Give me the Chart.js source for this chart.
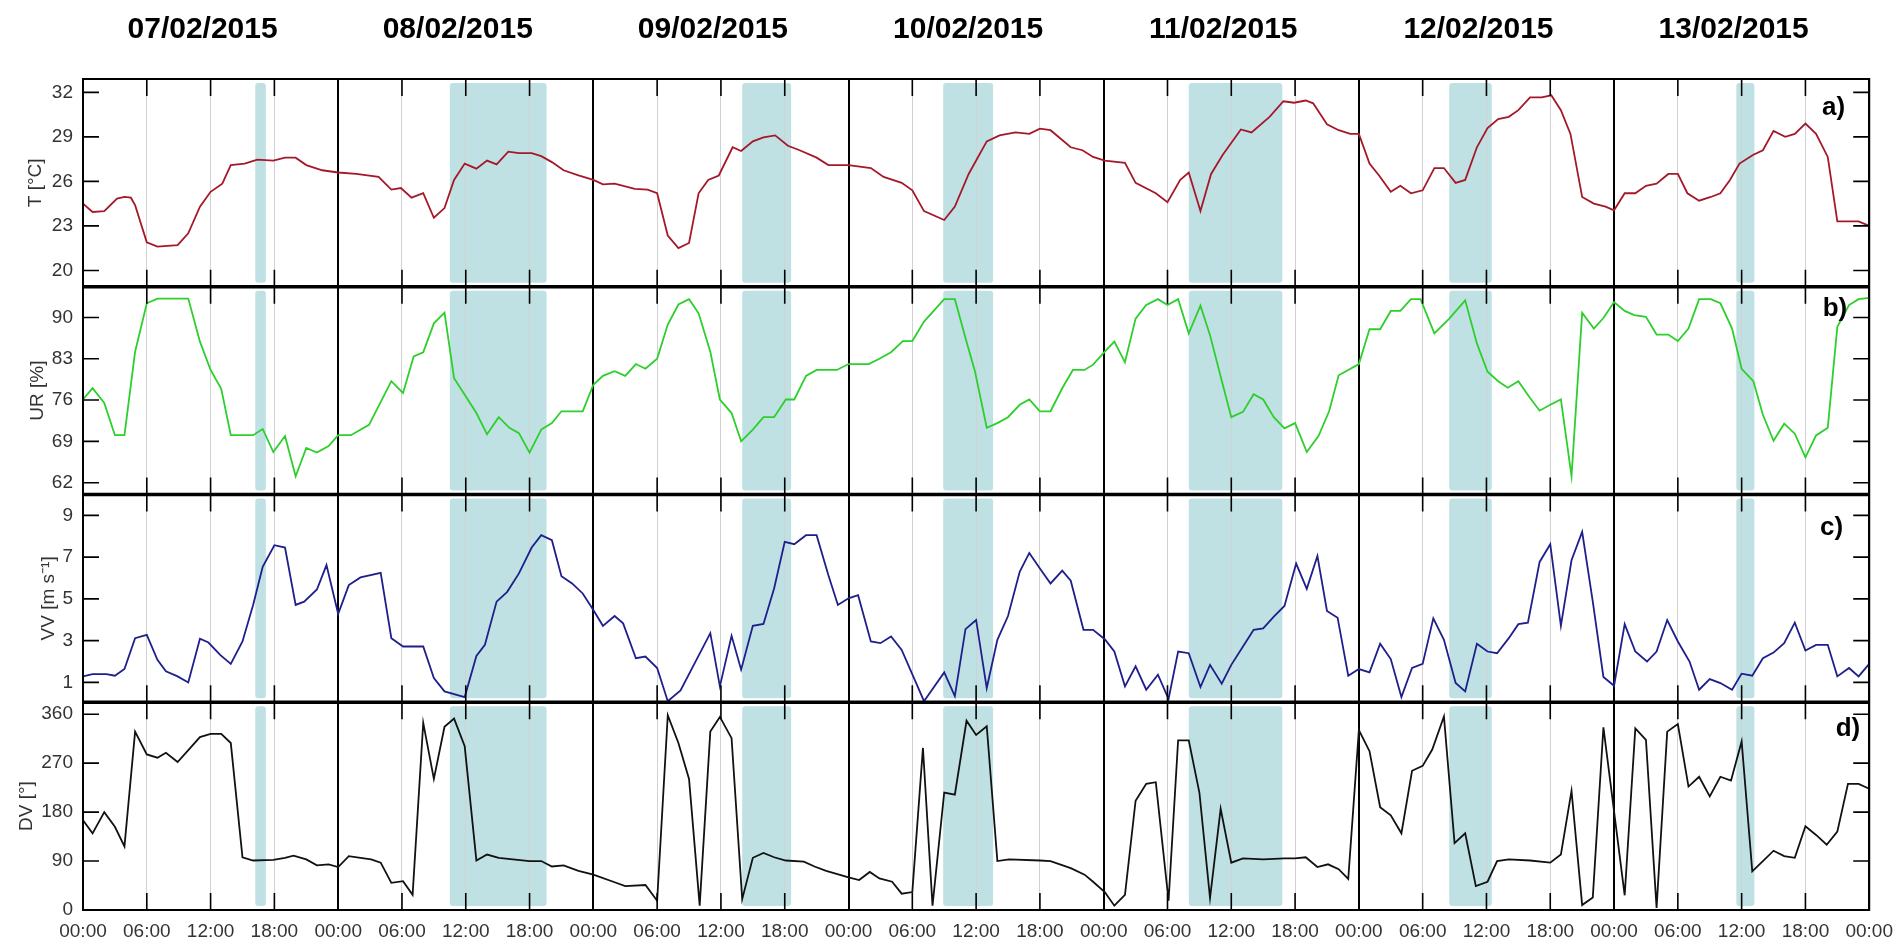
<!DOCTYPE html>
<html><head><meta charset="utf-8">
<script src="https://cdn.jsdelivr.net/npm/chart.js@4.4.1/dist/chart.umd.min.js"></script>
<style>html,body{margin:0;padding:0;background:#fff;overflow:hidden}#wrap{position:relative;width:1903px;height:947px}canvas{display:block}</style>
</head><body><div id="wrap"><canvas id="c" width="1903" height="947"></canvas></div>
<script>
// ---- data (hours since 07/02/2015 00:00) ----
const dayLabels = ['07/02/2015','08/02/2015','09/02/2015','10/02/2015','11/02/2015','12/02/2015','13/02/2015'];
const timeTickLabels = ['00:00','06:00','12:00','18:00'];
const shadeStart = [16.2, 34.5, 62.0, 80.9, 104.0, 128.5, 155.5];
const shadeEnd   = [17.2, 43.6, 66.6, 85.6, 112.8, 132.5, 157.2];

const tTicks  = [20, 23, 26, 29, 32];
const urTicks = [62, 69, 76, 83, 90];
const vvTicks = [1, 3, 5, 7, 9];
const dvTicks = [0, 90, 180, 270, 360];

const tHours = [0,0.9,2,3.2,3.9,4.5,4.9,6,7,8.9,9.9,11,12,13.1,13.9,15.2,16.4,17.9,19,20,21,22.5,24,25.7,27.8,29,29.9,30.9,32,33,34,34.9,35.9,37,38,38.9,40,41,42.2,43.1,44.1,45.2,46.6,48,48.9,50,51.9,53.1,54,55,56,57,57.9,58.8,59.8,61.1,61.9,63,64,65.1,66.3,67.4,69,70.1,72,74.1,75.3,77,78,79.1,81,82,83.3,85,86.2,87.7,89,90,91,92.9,94,95,96.1,98,99,100.9,102,103.2,104,105.1,106.1,107.2,108.9,109.9,111.6,112.9,113.9,115,115.7,117,118.1,119.2,120,121,121.9,123,123.9,124.9,126,127.1,128,129.1,130,131.1,132.1,133.1,134.1,135,136.1,137.2,138.1,139,139.9,141,142.1,143.2,144,145,146,147,148,149.1,150,150.9,152,153.1,154,154.9,155.8,157.1,158,159,160.1,161,162,163,164.1,165,166.1,167,168];
const tValues = [24.5,23.94,24.0,24.84,24.95,24.9,24.4,21.9,21.6,21.7,22.5,24.3,25.3,25.85,27.1,27.2,27.47,27.4,27.6,27.6,27.1,26.75,26.6,26.5,26.3,25.45,25.55,24.9,25.2,23.55,24.2,26.1,27.2,26.86,27.4,27.15,28.0,27.9,27.9,27.7,27.3,26.75,26.4,26.1,25.8,25.85,25.5,25.45,25.2,22.35,21.5,21.85,25.2,26.1,26.4,28.3,28.05,28.7,28.96,29.1,28.4,28.1,27.6,27.1,27.1,26.9,26.3,25.9,25.4,24.0,23.4,24.3,26.5,28.7,29.1,29.3,29.2,29.55,29.45,28.3,28.1,27.65,27.4,27.25,25.9,25.2,24.6,26.1,26.6,24.0,26.5,27.8,29.5,29.3,30.35,31.4,31.3,31.45,31.26,29.85,29.45,29.2,29.2,27.2,26.4,25.3,25.7,25.2,25.4,26.9,26.9,25.9,26.1,28.3,29.6,30.2,30.35,30.8,31.66,31.66,31.8,30.8,29.2,24.95,24.5,24.3,24.05,25.2,25.2,25.7,25.85,26.5,26.5,25.2,24.7,24.95,25.2,26.1,27.2,27.8,28.1,29.4,29.0,29.2,29.9,29.2,27.65,23.3,23.3,23.3,23.0];

const urHours = [0,0.9,2,3,3.9,4.9,6,7,9.9,11,12,13,13.9,16,16.9,17.9,19,20,21,22,23.1,24,25.2,26.9,29,30.1,31.1,32,33,34,34.9,35.9,37,38,39.1,40.1,41,42,43.1,44.1,45,47,48,48.9,50,51,52,52.9,54,55,56,57,57.9,59,59.9,61,61.9,63,64,65,66.1,66.9,68,69,70.9,72,73.9,74.9,76,77.1,78,79.1,81,82,83.1,83.9,85,86,87,88.1,89,90,91,92.1,93.1,94.2,95,96.1,97,98,99,100,101.1,102,103,104,105.1,106,107,108,109.1,110.1,111,112,113,114,115.1,116.2,117.2,118.1,119,120,121,122,123,123.9,124.9,125.8,127.1,128.5,130,131.1,132.1,133.1,134,135,136,137,138,139,140,141,142.1,143,144,145,145.9,147,148,149.1,150,151,152,153.1,154,155.1,156,157.1,158,159,160,161,162,163,164.1,165,166.1,167,168];
const urValues = [76.1,78.0,75.5,70.05,70.05,84.2,92.4,93.2,93.2,85.9,81.1,77.9,70.05,70.05,71.1,67.2,69.9,63.1,67.9,67.1,68.2,70.05,70.05,71.8,79.2,77.2,83.4,84.1,89.0,90.8,79.7,76.9,73.8,70.2,73.1,71.3,70.4,67.1,71.0,72.1,74.1,74.1,78.6,80.1,80.9,80.1,82.1,81.3,83.0,88.8,92.2,93.1,90.7,84.2,76.1,73.8,69.0,71.0,73.1,73.1,76.1,76.1,80.1,81.1,81.1,82.1,82.1,83.0,84.1,86.0,86.0,89.3,93.1,93.1,85.9,80.8,71.3,72.1,73.1,75.2,76.1,74.1,74.1,78.0,81.1,81.1,82.0,84.2,85.9,82.4,89.8,92.1,93.1,92.1,93.1,87.3,92.0,87.0,80.0,73.1,74.0,77.0,76.1,73.1,71.2,72.1,67.2,69.9,74.1,80.2,81.1,82.1,88.0,88.0,91.1,91.1,93.1,93.1,87.3,89.8,92.9,85.6,80.8,79.2,78.1,79.2,76.6,74.2,75.2,76.1,63.1,90.8,88.1,89.9,92.6,91.1,90.4,90.1,87.1,87.1,86.0,88.1,93.1,93.1,92.4,88.1,81.3,79.2,73.5,69.1,72.0,70.3,66.3,70.0,71.3,88.4,92.1,93.1,93.3];

const vvHours = [0,0.9,2.2,3,3.9,4.9,6,7,7.8,8.9,9.9,11,11.8,12.9,13.9,15,16,16.9,18,19,20,20.8,22,22.9,24,25,26.1,28,29,30.1,32,33,34,35.9,37,37.8,38.9,39.9,41,42.2,43.1,44.1,45,46,47,48,48.9,50,50.8,52,52.9,54,55,56.2,59,59.9,61,61.9,63,64,65,66,66.9,68,69,70.1,71,72,72.9,74.1,75,76,77,79.1,81,82,83,84,85,86,87,88.1,89,90,91,92.1,92.9,94.1,95,96.1,97,98,99,100,101.1,102.1,103,104,105.1,106,107.1,108,109.1,110.1,111,112,113,114.1,115.1,116.1,117,118,119,120,121,122,123,124,125,126,127,128,129.1,130,131.1,132.1,133,134.1,135,135.9,137,138,139,140,141,142,143,144,145,146,147.1,148,149,150,151.1,152,153,154,155.1,156,157,158,159,160,161,162,163,164.1,165,166.1,167,168];
const vvValues = [1.29,1.40,1.40,1.32,1.64,3.12,3.28,2.08,1.53,1.29,1.0,3.09,2.91,2.32,1.89,2.96,4.71,6.54,7.57,7.46,4.71,4.87,5.45,6.62,4.28,5.66,6.03,6.25,3.12,2.72,2.72,1.21,0.57,0.30,2.27,2.80,4.87,5.34,6.22,7.46,8.05,7.81,6.09,5.74,5.26,4.47,3.71,4.18,3.83,2.16,2.24,1.69,0.10,0.62,3.36,0.81,3.23,1.61,3.71,3.80,5.50,7.73,7.62,8.05,8.05,6.14,4.71,5.03,5.18,2.96,2.88,3.20,2.56,0.10,1.48,0.34,3.55,3.99,0.73,3.04,4.18,6.30,7.20,6.46,5.74,6.35,5.87,3.52,3.52,3.07,2.48,0.81,1.77,0.65,1.37,0.21,2.48,2.40,0.78,1.84,0.94,1.84,2.72,3.52,3.59,4.15,4.66,6.69,5.48,7.06,4.42,4.10,1.32,1.64,1.48,2.85,2.12,0.30,1.69,1.89,4.07,3.04,0.97,0.57,2.85,2.48,2.40,3.12,3.79,3.86,6.77,7.62,3.71,6.85,8.21,4.87,1.26,0.84,3.79,2.48,2.00,2.48,3.99,2.96,2.00,0.65,1.16,0.97,0.65,1.42,1.32,2.16,2.43,2.88,3.86,2.53,2.80,2.80,1.29,1.69,1.29,1.89];

const dvHours = [0,0.9,2,3,3.9,4.9,6,7,7.8,8.9,11,12,13,13.9,15,16,17.9,19,19.8,21,22,23.1,24,25,26.1,27.1,28,29,30.1,31,32,33,34,34.9,35.9,37,38,39.1,42,43.1,44.1,45.2,46.6,48,50,51,52.9,54,55,56,57,58,59,59.9,61,62,63,64,65,66.1,67.8,68.8,69.9,72,73,74,74.9,76.1,77,78,79,79.9,81,82,83.1,84,85,86,87.1,90,91,92.9,94.2,95,96.1,97,98,99,100,100.9,102.1,103,104,105,106,107,108,109.1,111,113,114,115,116.1,117.1,118.1,119,120,121,122,123,124,125,126,126.9,128,129,130,131,132.1,133,134.1,136.1,138,139,140,141,142,143,145,146,147,148,149,150,151,152,153,154,155,156,157,158,159,160,161,162,163,164,165,166,167,168];
const dvValues = [165,141,180,153,117,328,286,280,289,272,318,324,324,307,97,91,92,96,100,93,82,84,79,99,96,93,87,50,53,28,344,241,337,352,301,91,102,96,90,90,80,82,72,65,51,44,46,17,358,307,241,8,328,355,316,20,96,105,97,91,89,80,72,60,55,70,58,52,30,33,298,8,216,212,348,322,338,90,93,91,90,77,65,52,33,8,28,201,232,235,17,312,312,216,22,186,87,95,93,95,95,97,79,84,75,57,331,292,189,174,141,256,265,295,356,123,141,44,52,90,93,91,87,102,219,9,23,336,27,334,313,4,328,342,227,245,209,245,238,310,71,90,109,99,96,154,138,120,144,232,232,223];

function pts(h, v) { return h.map((x, i) => ({ x: x, y: v[i] })); }

const FONT = "'Liberation Sans', Arial, Helvetica, sans-serif";
const panelIds = ['yT', 'yUR', 'yVV', 'yDV'];
const panelTags = ['a)', 'b)', 'c)', 'd)'];
const tagDX = [24, 22, 26, 9];
const tagDY = [29, 22, 33, 27];

function rrect(ctx, x, y, w, h, r) {
  ctx.beginPath();
  ctx.moveTo(x + r, y); ctx.lineTo(x + w - r, y); ctx.quadraticCurveTo(x + w, y, x + w, y + r);
  ctx.lineTo(x + w, y + h - r); ctx.quadraticCurveTo(x + w, y + h, x + w - r, y + h);
  ctx.lineTo(x + r, y + h); ctx.quadraticCurveTo(x, y + h, x, y + h - r);
  ctx.lineTo(x, y + r); ctx.quadraticCurveTo(x, y, x + r, y); ctx.closePath();
}

const decor = {
  id: 'decor',
  beforeDraw(chart) {
    const { ctx, scales } = chart;
    const xs = scales.x;
    ctx.save();
    ctx.fillStyle = '#ffffff'; ctx.fillRect(0, 0, chart.width, chart.height);
    ctx.fillStyle = 'rgb(192,225,227)';
    panelIds.forEach(id => {
      const s = scales[id];
      for (let i = 0; i < shadeStart.length; i++) {
        const x0 = xs.getPixelForValue(shadeStart[i]), x1 = xs.getPixelForValue(shadeEnd[i]);
        rrect(ctx, x0, s.top + 4, x1 - x0, s.bottom - s.top - 8, 3); ctx.fill();
      }
    });
    ctx.restore();
  },
  afterDraw(chart) {
    const { ctx, chartArea: ca, scales } = chart;
    const xs = scales.x;
    ctx.save();
    ctx.strokeStyle = '#000';
    // inward x tick marks in each panel
    ctx.lineWidth = 1.6;
    panelIds.forEach(id => {
      const s = scales[id];
      for (let h = 6; h < 168; h += 6) {
        if (h % 24 === 0) continue;
        const px = xs.getPixelForValue(h);
        ctx.beginPath();
        ctx.moveTo(px, s.top); ctx.lineTo(px, s.top + 17);
        ctx.moveTo(px, s.bottom); ctx.lineTo(px, s.bottom - 17);
        ctx.stroke();
      }
      // inward y tick marks, both sides
      s.ticks.forEach(t => {
        const py = s.getPixelForValue(t.value);
        ctx.beginPath();
        ctx.moveTo(ca.left, py); ctx.lineTo(ca.left + 16, py);
        ctx.moveTo(ca.right, py); ctx.lineTo(ca.right - 16, py);
        ctx.stroke();
      });
    });
    // panel separators
    ctx.lineWidth = 3.5;
    for (let i = 0; i < 3; i++) {
      const s = scales[panelIds[i]];
      ctx.beginPath(); ctx.moveTo(ca.left, s.bottom); ctx.lineTo(ca.right, s.bottom); ctx.stroke();
    }
    // outer frame
    ctx.lineWidth = 2;
    ctx.strokeRect(ca.left, ca.top, ca.right - ca.left, ca.bottom - ca.top);
    // panel letters
    ctx.fillStyle = '#000';
    ctx.font = 'bold 26px ' + FONT;
    ctx.textAlign = 'right'; ctx.textBaseline = 'middle';
    panelIds.forEach((id, i) => {
      const s = scales[id];
      ctx.fillText(panelTags[i], ca.right - tagDX[i], s.top + tagDY[i]);
    });
    // day labels
    ctx.font = 'bold 30px ' + FONT;
    ctx.textAlign = 'center';
    dayLabels.forEach((lab, i) => {
      ctx.fillText(lab, xs.getPixelForValue(i * 24 + 12) - 8, 30);
    });
    ctx.restore();
  }
};

function yAxis(min, max, ticks, title, weight, titlePad) {
  return {
    type: 'linear', position: 'left', stack: 'panels', stackWeight: 1, weight: weight,
    min: min, max: max,
    afterBuildTicks: s => { s.ticks = ticks.map(v => ({ value: v })); },
    afterFit: s => { s.width = 83; },
    grid: { display: false, drawTicks: false },
    border: { display: false },
    ticks: { padding: 10, color: '#333', font: { family: FONT, size: 19 } },
    title: { display: true, text: title, color: '#333', font: { family: FONT, size: 19 }, padding: { top: titlePad, bottom: 0 } }
  };
}

const xTicks = [];
for (let h = 0; h <= 168; h += 6) xTicks.push(h);

new Chart(document.getElementById('c'), {
  type: 'line',
  data: {
    datasets: [
      { label: 'T', data: pts(tHours, tValues), yAxisID: 'yT', borderColor: '#a5182a', borderWidth: 1.8, pointRadius: 0, tension: 0 },
      { label: 'UR', data: pts(urHours, urValues), yAxisID: 'yUR', borderColor: '#2ccf2c', borderWidth: 1.8, pointRadius: 0, tension: 0 },
      { label: 'VV', data: pts(vvHours, vvValues), yAxisID: 'yVV', borderColor: '#1e1e8c', borderWidth: 1.8, pointRadius: 0, tension: 0 },
      { label: 'DV', data: pts(dvHours, dvValues), yAxisID: 'yDV', borderColor: '#111111', borderWidth: 1.8, pointRadius: 0, tension: 0 }
    ]
  },
  options: {
    responsive: false, animation: false, maintainAspectRatio: false,
    layout: { padding: { top: 79, right: 27, left: 0, bottom: 0 } },
    plugins: { legend: { display: false }, tooltip: { enabled: false } },
    scales: {
      x: {
        type: 'linear', min: 0, max: 168,
        afterBuildTicks: s => { s.ticks = xTicks.map(v => ({ value: v })); },
        afterFit: s => { s.height = 37; },
        border: { display: false },
        grid: {
          drawTicks: false,
          color: c => (c.tick && c.tick.value % 24 === 0) ? '#000' : '#d2d2d2',
          lineWidth: c => (c.tick && c.tick.value % 24 === 0) ? 2 : 1
        },
        ticks: {
          autoSkip: false, maxRotation: 0, minRotation: 0, padding: 10, color: '#333',
          font: { family: FONT, size: 19 },
          callback: v => timeTickLabels[(Math.round(v) / 6) % 4]
        }
      },
      yT: yAxis(18.9, 32.9, tTicks, 'T [°C]', 4, 24),
      yUR: yAxis(60.0, 95.2, urTicks, 'UR [%]', 3, 26),
      yVV: yAxis(0.05, 10.0, vvTicks, 'VV [m s⁻¹]', 2, 37),
      yDV: yAxis(0, 382, dvTicks, 'DV [°]', 1, 15)
    }
  },
  plugins: [decor]
});
</script>
</body></html>
